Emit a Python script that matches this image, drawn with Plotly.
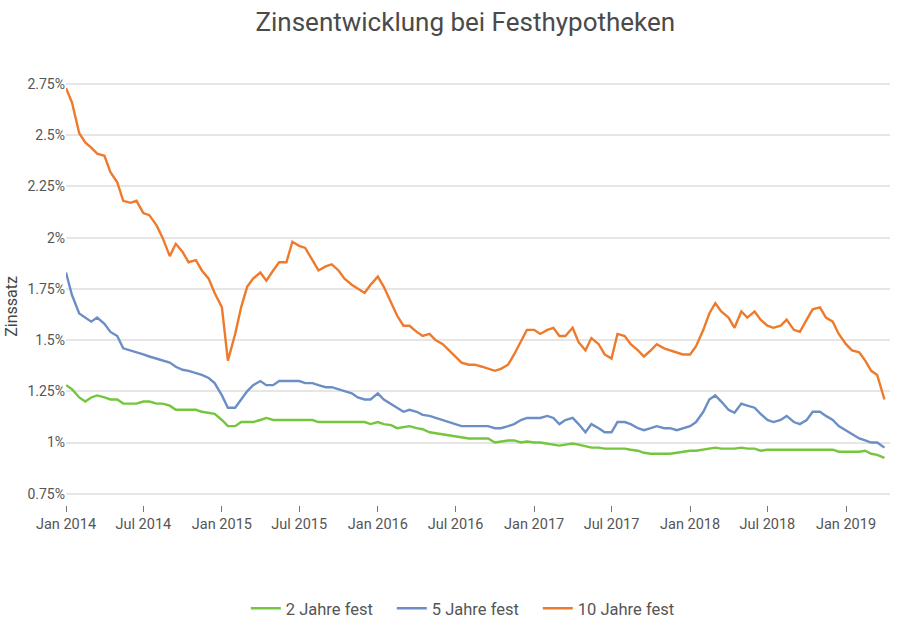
import pandas as pd
import plotly.graph_objects as go

# semi-monthly observation dates (1st and 15th), Jan 2014 .. Apr 2019
dates = pd.date_range("2014-01-01", "2019-04-01", freq="SMS")

zins_10 = [
    2.73, 2.66, 2.51, 2.465, 2.44, 2.41, 2.40, 2.32, 2.27, 2.18,
    2.17, 2.18, 2.12, 2.11, 2.06, 2.00, 1.91, 1.97, 1.93, 1.88,
    1.89, 1.84, 1.80, 1.73, 1.66, 1.40, 1.53, 1.66, 1.76, 1.80,
    1.83, 1.79, 1.84, 1.88, 1.88, 1.98, 1.96, 1.95, 1.89, 1.84,
    1.86, 1.87, 1.84, 1.80, 1.77, 1.75, 1.73, 1.77, 1.81, 1.76,
    1.68, 1.62, 1.57, 1.57, 1.54, 1.52, 1.53, 1.50, 1.48, 1.45,
    1.42, 1.39, 1.38, 1.38, 1.37, 1.36, 1.35, 1.36, 1.38, 1.43,
    1.49, 1.55, 1.55, 1.53, 1.55, 1.56, 1.52, 1.52, 1.56, 1.49,
    1.45, 1.51, 1.48, 1.43, 1.41, 1.53, 1.52, 1.48, 1.45, 1.42,
    1.45, 1.48, 1.46, 1.45, 1.44, 1.43, 1.43, 1.47, 1.55, 1.63,
    1.68, 1.64, 1.61, 1.56, 1.64, 1.61, 1.64, 1.60, 1.57, 1.56,
    1.57, 1.60, 1.55, 1.54, 1.60, 1.65, 1.66, 1.61, 1.59, 1.53,
    1.48, 1.45, 1.44, 1.40, 1.35, 1.33, 1.21,
]

zins_5 = [
    1.83, 1.72, 1.63, 1.61, 1.59, 1.61, 1.58, 1.54, 1.52, 1.46,
    1.45, 1.44, 1.43, 1.42, 1.41, 1.40, 1.39, 1.37, 1.355, 1.35,
    1.34, 1.33, 1.315, 1.29, 1.23, 1.17, 1.17, 1.21, 1.25, 1.28,
    1.30, 1.28, 1.28, 1.30, 1.30, 1.30, 1.30, 1.29, 1.29, 1.28,
    1.27, 1.27, 1.26, 1.25, 1.24, 1.22, 1.21, 1.21, 1.24, 1.21,
    1.19, 1.17, 1.15, 1.16, 1.15, 1.135, 1.13, 1.12, 1.11, 1.10,
    1.09, 1.08, 1.08, 1.08, 1.08, 1.08, 1.07, 1.07, 1.08, 1.09,
    1.11, 1.12, 1.12, 1.12, 1.13, 1.12, 1.09, 1.11, 1.12, 1.09,
    1.05, 1.09, 1.07, 1.05, 1.05, 1.10, 1.10, 1.09, 1.07, 1.06,
    1.07, 1.08, 1.07, 1.07, 1.06, 1.07, 1.08, 1.10, 1.15, 1.21,
    1.23, 1.20, 1.16, 1.145, 1.19, 1.18, 1.17, 1.14, 1.11, 1.10,
    1.11, 1.13, 1.10, 1.09, 1.11, 1.15, 1.15, 1.13, 1.11, 1.08,
    1.06, 1.04, 1.02, 1.01, 1.00, 1.00, 0.975,
]

zins_2 = [
    1.28, 1.26, 1.22, 1.20, 1.22, 1.23, 1.22, 1.21, 1.21, 1.19,
    1.19, 1.19, 1.20, 1.20, 1.19, 1.19, 1.18, 1.16, 1.16, 1.16,
    1.16, 1.15, 1.145, 1.14, 1.11, 1.08, 1.08, 1.10, 1.10, 1.10,
    1.11, 1.12, 1.11, 1.11, 1.11, 1.11, 1.11, 1.11, 1.11, 1.10,
    1.10, 1.10, 1.10, 1.10, 1.10, 1.10, 1.10, 1.09, 1.10, 1.09,
    1.085, 1.07, 1.075, 1.08, 1.07, 1.065, 1.05, 1.045, 1.04, 1.035,
    1.03, 1.025, 1.02, 1.02, 1.02, 1.02, 1.00, 1.005, 1.01, 1.01,
    1.00, 1.005, 1.00, 1.00, 0.995, 0.99, 0.985, 0.99, 0.995, 0.99,
    0.98, 0.975, 0.975, 0.97, 0.97, 0.97, 0.97, 0.965, 0.96, 0.95,
    0.945, 0.945, 0.945, 0.945, 0.95, 0.955, 0.96, 0.96, 0.965, 0.97,
    0.975, 0.97, 0.97, 0.97, 0.975, 0.97, 0.97, 0.96, 0.965, 0.965,
    0.965, 0.965, 0.965, 0.965, 0.965, 0.965, 0.965, 0.965, 0.965, 0.955,
    0.955, 0.955, 0.955, 0.96, 0.945, 0.94, 0.925,
]

series_names = ["2 Jahre fest", "5 Jahre fest", "10 Jahre fest"]
series_colors = ["#74c63d", "#6b8fc5", "#ee7a2c"]

y_tickvals = [0.75, 1.0, 1.25, 1.5, 1.75, 2.0, 2.25, 2.5, 2.75]
y_ticktext = ["0.75%", "1%", "1.25%", "1.5%", "1.75%", "2%", "2.25%", "2.5%", "2.75%"]

fig = go.Figure()
for name, vals, col in zip(series_names, [zins_2, zins_5, zins_10], series_colors):
    fig.add_trace(go.Scatter(
        x=dates, y=vals, mode="lines", name=name,
        line=dict(color=col, width=2.4),
    ))

fig.update_layout(
    width=900, height=621,
    paper_bgcolor="white", plot_bgcolor="white",
    font=dict(family="Roboto, Arial, sans-serif", color="#555555", size=12),
    title=dict(text="Zinsentwicklung bei Festhypotheken", x=0.517, xanchor="center",
               y=0.965, yanchor="middle",
               font=dict(size=26, color="#4a4a4a", family="Roboto, Arial, sans-serif")),
    margin=dict(l=66, r=10, t=82, b=116, autoexpand=False),
    showlegend=True,
    legend=dict(orientation="h", x=0.484, xanchor="center",
                yref="container", y=0.02, yanchor="middle",
                entrywidth=101, entrywidthmode="pixels",
                font=dict(size=16.5, color="#555555"), tracegroupgap=0),
    annotations=[dict(text="Zinssatz", textangle=-90, xref="paper", yref="paper",
                      x=-0.066, y=0.47, xanchor="center", yanchor="middle",
                      showarrow=False, font=dict(size=16, color="#444444"))],
)

fig.update_xaxes(
    type="date",
    range=["2014-01-01", "2019-04-14"],
    dtick="M6", tick0="2014-01-01", tickformat="%b %Y",
    ticks="outside", ticklen=6, tickcolor="#777777", tickwidth=1,
    showgrid=False, showline=False, zeroline=False, automargin=False,
    tickfont=dict(size=14.5, color="#555555"),
)
fig.update_yaxes(
    range=[0.695, 2.76],
    tickvals=y_tickvals, ticktext=y_ticktext,
    showgrid=True, gridcolor="#e6e6e6", gridwidth=1.5,
    showline=False, zeroline=False, ticks="", automargin=False,
    tickfont=dict(size=14, color="#555555"),
)

fig.write_html("out.html", config={"displayModeBar": False},
               post_script="document.body.style.margin='0';")
